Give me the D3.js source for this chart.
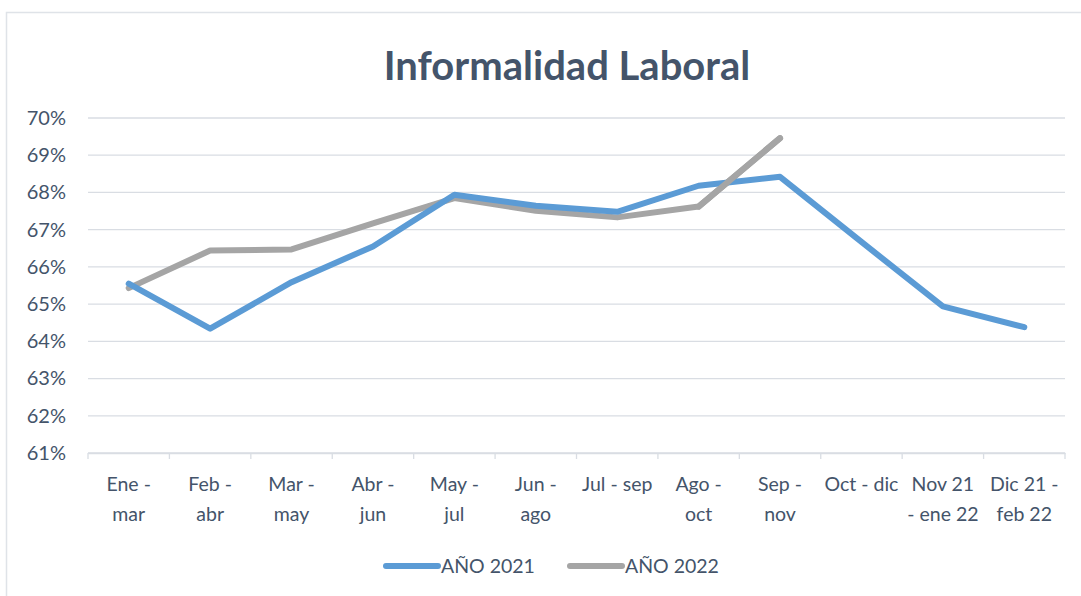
<!DOCTYPE html>
<html lang="es">
<head>
  <meta charset="UTF-8">
  <title>Informalidad Laboral</title>
  <style>
    body { margin: 0; background: #fff; }
    svg { display: block; }
    svg text { font-family: Lato, "Open Sans", sans-serif; }
    .grid line { stroke: #d9dde3; stroke-width: 1.3; }
  </style>
</head>
<body>
  <div id="chart"></div>
  <script src="https://d3js.org/d3.v7.min.js"></script>
  <script>
    // chart data
    const categories = ['Ene - mar', 'Feb - abr', 'Mar - may', 'Abr - jun', 'May - jul', 'Jun - ago',
      'Jul - sep', 'Ago - oct', 'Sep - nov', 'Oct - dic', 'Nov 21 - ene 22', 'Dic 21 - feb 22'];
    const labelLines = [['Ene -', 'mar'], ['Feb -', 'abr'], ['Mar -', 'may'], ['Abr -', 'jun'],
      ['May -', 'jul'], ['Jun -', 'ago'], ['Jul - sep'], ['Ago -', 'oct'], ['Sep -', 'nov'],
      ['Oct - dic'], ['Nov 21', '- ene 22'], ['Dic 21 -', 'feb 22']];
    const anio2021 = [65.55, 64.34, 65.59, 66.55, 67.94, 67.64, 67.48, 68.18, 68.42, 66.67, 64.94, 64.38];
    const anio2022 = [65.43, 66.44, 66.47, 67.17, 67.85, 67.51, 67.33, 67.62, 69.46];
    const yTicks = [61, 62, 63, 64, 65, 66, 67, 68, 69, 70];

    const W = 1081, H = 596;
    const margin = { top: 118, right: 16, bottom: 143, left: 88 };
    const width = W - margin.left - margin.right;
    const height = H - margin.top - margin.bottom;
    const textColor = '#44546a';

    const svg = d3.select('#chart').append('svg')
      .attr('width', W).attr('height', H);

    // outer frame (only top and left edges are visible)
    svg.append('path')
      .attr('d', `M6.5,${H} V12.5 H${W}`)
      .attr('fill', 'none')
      .attr('stroke', '#dfe3e8')
      .attr('stroke-width', 1.5);

    svg.append('text')
      .attr('x', 567).attr('y', 80)
      .attr('text-anchor', 'middle')
      .attr('font-size', 40)
      .attr('font-weight', 'bold')
      .attr('fill', textColor)
      .text('Informalidad Laboral');

    const g = svg.append('g').attr('transform', `translate(${margin.left},${margin.top})`);

    const x = d3.scaleBand().domain(categories).range([0, width]);
    const y = d3.scaleLinear().domain([61, 70]).range([height, 0]);

    // gridlines
    g.append('g').attr('class', 'grid')
      .selectAll('line').data(yTicks).enter().append('line')
      .attr('x1', 0).attr('x2', width)
      .attr('y1', d => y(d)).attr('y2', d => y(d));

    // y axis
    const yAxis = g.append('g')
      .call(d3.axisLeft(y).tickValues(yTicks).tickFormat(d => d + '%').tickSize(0).tickPadding(22));
    yAxis.select('.domain').remove();
    yAxis.selectAll('text').attr('font-size', 20).attr('fill', textColor);

    // x axis
    const xAxis = g.append('g')
      .attr('transform', `translate(0,${height})`)
      .call(d3.axisBottom(x).tickSize(0).tickFormat(''));
    xAxis.select('.domain').attr('stroke', '#d9dde3').attr('stroke-width', 1.3);
    // tick marks at the band edges
    xAxis.selectAll('.edge').data(d3.range(categories.length + 1)).enter().append('line')
      .attr('class', 'edge')
      .attr('x1', i => i * x.step()).attr('x2', i => i * x.step())
      .attr('y1', 0).attr('y2', 6)
      .attr('stroke', '#d9dde3').attr('stroke-width', 1.3);
    xAxis.selectAll('.tick').each(function(d, i) {
      const t = d3.select(this).append('text')
        .attr('fill', textColor)
        .attr('font-size', 19.5)
        .attr('text-anchor', 'middle');
      labelLines[i].forEach((ln, k) => {
        t.append('tspan').attr('x', 0).attr('y', 38 + k * 30).text(ln);
      });
    });

    const line = d3.line()
      .x((d, i) => x(categories[i]) + x.bandwidth() / 2)
      .y(d => y(d));

    g.append('path').datum(anio2022)
      .attr('fill', 'none').attr('stroke', '#a5a5a5')
      .attr('stroke-width', 6).attr('stroke-linejoin', 'round').attr('stroke-linecap', 'round')
      .attr('d', line);

    g.append('path').datum(anio2021)
      .attr('fill', 'none').attr('stroke', '#5b9bd5')
      .attr('stroke-width', 6).attr('stroke-linejoin', 'round').attr('stroke-linecap', 'round')
      .attr('d', line);

    // 2022 crosses above 2021 on the last segment, as in the reference
    g.append('path').datum(anio2022.slice(7))
      .attr('fill', 'none').attr('stroke', '#a5a5a5')
      .attr('stroke-width', 6).attr('stroke-linecap', 'round')
      .attr('d', d3.line()
        .x((d, i) => x(categories[i + 7]) + x.bandwidth() / 2)
        .y(d => y(d)));

    // legend
    const legend = [
      { name: 'AÑO 2021', color: '#5b9bd5', x: 386 },
      { name: 'AÑO 2022', color: '#a5a5a5', x: 570 }
    ];
    const lg = svg.append('g').selectAll('g').data(legend).enter().append('g')
      .attr('transform', d => `translate(${d.x},566)`);
    lg.append('line')
      .attr('x1', 0).attr('x2', 52).attr('y1', 0).attr('y2', 0)
      .attr('stroke', d => d.color).attr('stroke-width', 6).attr('stroke-linecap', 'round');
    lg.append('text')
      .attr('x', 55).attr('y', 7)
      .attr('font-size', 19.5).attr('fill', textColor)
      .text(d => d.name);
  </script>
</body>
</html>
